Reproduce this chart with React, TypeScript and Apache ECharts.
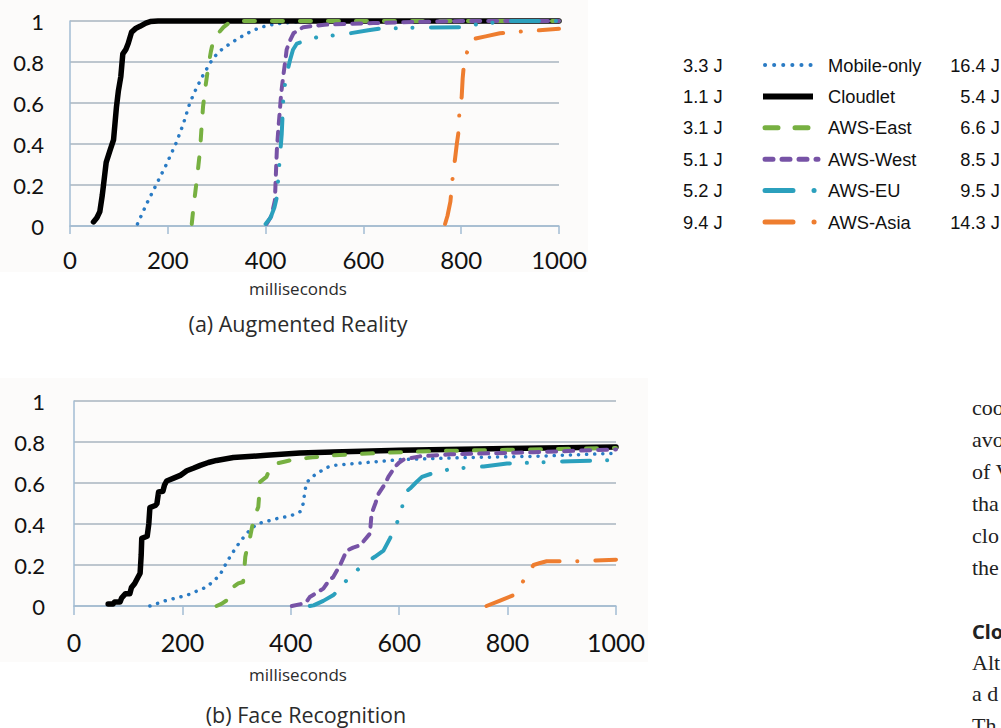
import React, { useEffect, useRef } from 'react';
import * as echarts from 'echarts';

// ---------- data ----------
const xTicks = [0, 200, 400, 600, 800, 1000];
const seriesNames = ['Mobile-only', 'Cloudlet', 'AWS-East', 'AWS-West', 'AWS-EU', 'AWS-Asia'];
const energyLeft = ['3.3 J', '1.1 J', '3.1 J', '5.1 J', '5.2 J', '9.4 J'];
const energyRight = ['16.4 J', '5.4 J', '6.6 J', '8.5 J', '9.5 J', '14.3 J'];

// (a) Augmented Reality — [milliseconds, cumulative fraction]
const arMobile = [[138, 0.01], [157, 0.11], [176, 0.2], [197, 0.3], [218, 0.41], [232, 0.5], [245, 0.6], [258, 0.67], [273, 0.74], [293, 0.82], [312, 0.865], [334, 0.9], [355, 0.93], [375, 0.955], [395, 0.972], [416, 0.984], [450, 0.993], [500, 1], [1000, 1]];
const arCloudlet = [[48, 0.02], [55, 0.04], [61, 0.07], [66, 0.15], [68, 0.19], [71, 0.25], [74, 0.31], [82, 0.37], [89, 0.42], [92, 0.5], [95, 0.58], [99, 0.66], [104, 0.73], [108, 0.84], [114, 0.86], [119, 0.89], [126, 0.946], [135, 0.965], [143, 0.974], [155, 0.99], [164, 0.997], [180, 1], [1000, 1]];
const arEast = [[249, 0.01], [252, 0.08], [256, 0.16], [261, 0.26], [266, 0.37], [269, 0.48], [272, 0.58], [277, 0.68], [283, 0.78], [288, 0.85], [293, 0.905], [303, 0.94], [314, 0.97], [327, 0.995], [340, 1], [1000, 1]];
const arWest = [[402, 0.01], [412, 0.05], [419, 0.125], [421, 0.25], [423, 0.37], [426, 0.47], [429, 0.56], [432, 0.65], [436, 0.73], [440, 0.8], [443, 0.86], [449, 0.9], [457, 0.94], [477, 0.97], [520, 0.982], [620, 0.99], [720, 0.996], [800, 1], [1000, 1]];
const arEU = [[400, 0.01], [410, 0.04], [418, 0.09], [423, 0.14], [428, 0.3], [433, 0.45], [436, 0.61], [440, 0.7], [445, 0.76], [450, 0.81], [456, 0.86], [464, 0.89], [484, 0.905], [504, 0.92], [540, 0.93], [573, 0.94], [610, 0.955], [634, 0.963], [700, 0.967], [797, 0.97], [832, 0.984], [870, 0.993], [900, 1], [1000, 1]];
const arAsia = [[767, 0.01], [772, 0.05], [778, 0.12], [781, 0.2], [784, 0.27], [787, 0.32], [791, 0.4], [794, 0.45], [796, 0.54], [799, 0.6], [801, 0.63], [803, 0.72], [806, 0.8], [811, 0.84], [816, 0.88], [821, 0.91], [850, 0.925], [879, 0.94], [920, 0.948], [960, 0.955], [1000, 0.962]];

// (b) Face Recognition
const frMobile = [[140, 0], [171, 0.028], [208, 0.052], [245, 0.093], [269, 0.15], [282, 0.215], [300, 0.29], [318, 0.353], [337, 0.4], [374, 0.426], [400, 0.44], [417, 0.46], [423, 0.5], [426, 0.56], [429, 0.6], [437, 0.625], [448, 0.646], [466, 0.675], [478, 0.686], [540, 0.7], [601, 0.714], [724, 0.724], [848, 0.73], [1000, 0.745]];
const frCloudlet = [[63, 0.01], [72, 0.01], [75, 0.02], [85, 0.02], [88, 0.04], [95, 0.06], [103, 0.06], [106, 0.09], [112, 0.11], [118, 0.14], [122, 0.16], [124, 0.25], [125, 0.33], [135, 0.34], [138, 0.4], [140, 0.48], [150, 0.49], [153, 0.5], [156, 0.556], [164, 0.56], [167, 0.59], [171, 0.61], [185, 0.625], [196, 0.637], [208, 0.66], [220, 0.672], [233, 0.686], [248, 0.7], [263, 0.71], [294, 0.724], [355, 0.735], [417, 0.746], [478, 0.751], [601, 0.76], [800, 0.768], [1000, 0.776]];
const frEast = [[263, 0], [272, 0.01], [282, 0.028], [288, 0.06], [294, 0.093], [303, 0.11], [312, 0.117], [314, 0.17], [316, 0.24], [320, 0.29], [325, 0.337], [331, 0.418], [335, 0.45], [340, 0.483], [342, 0.55], [343, 0.605], [355, 0.63], [360, 0.66], [362, 0.678], [374, 0.695], [390, 0.705], [405, 0.714], [440, 0.725], [478, 0.735], [560, 0.746], [663, 0.756], [800, 0.762], [940, 0.768], [1000, 0.771]];
const frWest = [[402, 0], [420, 0.01], [429, 0.02], [435, 0.044], [445, 0.06], [460, 0.085], [472, 0.13], [478, 0.14], [491, 0.2], [503, 0.27], [515, 0.285], [528, 0.296], [546, 0.353], [549, 0.45], [556, 0.5], [562, 0.548], [574, 0.597], [580, 0.63], [592, 0.678], [600, 0.7], [608, 0.714], [638, 0.73], [694, 0.74], [848, 0.75], [1000, 0.764]];
const frEU = [[435, 0], [442, 0.003], [460, 0.025], [478, 0.052], [485, 0.07], [497, 0.109], [515, 0.158], [540, 0.215], [555, 0.24], [571, 0.27], [583, 0.33], [595, 0.4], [605, 0.467], [608, 0.548], [620, 0.573], [630, 0.6], [642, 0.63], [669, 0.654], [700, 0.67], [756, 0.681], [799, 0.695], [915, 0.706], [1000, 0.712]];
const frAsia = [[761, 0], [785, 0.025], [810, 0.052], [818, 0.08], [826, 0.109], [841, 0.174], [848, 0.2], [860, 0.21], [872, 0.218], [921, 0.218], [1000, 0.226]];

const paperLines = ['coo', 'avo', 'of V', 'tha', 'clo', 'the'];
const paperLines2 = ['Alt', 'a d', 'Th'];

// ---------- styles ----------
const colors = ['#2a7bc4', '#000000', '#77b041', '#7753a6', '#2ba0bd', '#ee7d2f'];
const widths = [3.5, 5.5, 4, 4, 4, 4];
const dashes: (number[] | 'solid')[] = [
  [0.1, 8],
  'solid',
  [11, 17],
  [9, 8],
  [28, 17, 0.1, 16.6, 0.1, 18.5],
  [28, 17.7, 0.1, 18],
];
const legendWidths = [4, 6, 5, 5, 5, 5];
const legendDashes: (number[] | null)[] = [
  [0.1, 9],
  null,
  [13, 17],
  [8, 9],
  [28, 21, 0.1, 21],
  [28, 21, 0.1, 21],
];

const gridColor = '#a9b4bf';
const axisColor = '#a3bdd3';
const tickFont = 'Lato, sans-serif';
const captionFont = '"Open Sans", sans-serif';

function makeSeries(data: number[][][], gi: number) {
  return data.map((d, i) => ({
    type: 'line',
    name: seriesNames[i],
    xAxisIndex: gi,
    yAxisIndex: gi,
    data: d,
    showSymbol: false,
    symbol: 'none',
    clip: false,
    silent: true,
    z: 3 + i,
    lineStyle: {
      color: colors[i],
      width: widths[i],
      type: dashes[i],
      cap: 'round',
      join: 'round',
    },
  }));
}

function makeX(gi: number, fontSize: number, margin: number, tickLen: number) {
  return {
    type: 'value',
    gridIndex: gi,
    min: 0,
    max: 1000,
    interval: 200,
    axisLine: { show: true, lineStyle: { color: axisColor, width: 1.5 } },
    axisTick: { show: true, length: tickLen, lineStyle: { color: axisColor, width: 1.5 } },
    splitLine: { show: false },
    axisLabel: {
      fontSize,
      fontFamily: tickFont,
      color: '#111',
      margin,
      formatter: (v: number) => (xTicks.includes(v) ? String(v) : ''),
    },
  };
}

function makeY(gi: number, margin: number) {
  return {
    type: 'value',
    gridIndex: gi,
    min: 0,
    max: 1,
    interval: 0.2,
    axisLine: { show: true, lineStyle: { color: axisColor, width: 1.5 } },
    axisTick: { show: false },
    splitLine: { show: true, lineStyle: { color: gridColor, width: 1.5 } },
    axisLabel: {
      fontSize: 22,
      fontFamily: tickFont,
      color: '#111',
      margin,
      formatter: (v: number) => String(Math.round(v * 10) / 10),
    },
  };
}

function buildGraphic() {
  const els: any[] = [];
  els.push({ type: 'rect', z: -10, silent: true, shape: { x: 0, y: 0, width: 588, height: 272 }, style: { fill: '#fcfbfa' } });
  els.push({ type: 'rect', z: -10, silent: true, shape: { x: 0, y: 378, width: 648, height: 284 }, style: { fill: '#fcfbfa' } });

  const cap = (text: string, x: number, y: number, size: number) => ({
    type: 'text', x, y, silent: true,
    style: { text, fontSize: size, fontFamily: captionFont, fill: '#2b2b2b', align: 'center', verticalAlign: 'middle' },
  });
  els.push(cap('milliseconds', 298, 288, 17));
  els.push(cap('(a) Augmented Reality', 298, 323, 21.5));
  els.push(cap('milliseconds', 298, 674, 17));
  els.push(cap('(b) Face Recognition', 306, 714, 21.5));

  // legend table
  const rowY0 = 65;
  const rowStep = 31.4;
  seriesNames.forEach((name, i) => {
    const y = rowY0 + i * rowStep;
    const ls: any = { stroke: colors[i], lineWidth: legendWidths[i], lineCap: legendDashes[i] ? 'round' : 'butt' };
    if (legendDashes[i]) ls.lineDash = legendDashes[i];
    els.push({ type: 'line', silent: true, shape: { x1: i === 1 ? 763 : 765, y1: y, x2: i === 1 ? 813 : 818, y2: y }, style: ls });
    const t = (text: string, x: number, align: string) => ({
      type: 'text', x, y, silent: true,
      style: { text, fontSize: 18.3, fontFamily: '"Liberation Sans", Arial, sans-serif', fill: '#111', align, verticalAlign: 'middle' },
    });
    els.push(t(energyLeft[i], 683, 'left'));
    els.push(t(name, 828, 'left'));
    els.push(t(energyRight[i], 1000, 'right'));
  });

  // cropped paper text on the right
  paperLines.forEach((s, i) => {
    els.push({
      type: 'text', x: 972, y: 407 + i * 32, silent: true,
      style: { text: s, fontSize: 22, fontFamily: '"Liberation Serif", serif', fill: '#222', align: 'left', verticalAlign: 'middle' },
    });
  });
  els.push({
    type: 'text', x: 972, y: 631, silent: true,
    style: { text: 'Clo', fontSize: 20, fontWeight: 'bold', fontFamily: '"Noto Sans", sans-serif', fill: '#222', align: 'left', verticalAlign: 'middle' },
  });
  paperLines2.forEach((s, i) => {
    els.push({
      type: 'text', x: 972, y: 662 + i * 31.5, silent: true,
      style: { text: s, fontSize: 22, fontFamily: '"Liberation Serif", serif', fill: '#222', align: 'left', verticalAlign: 'middle' },
    });
  });
  return els;
}

export default function App() {
  const ref = useRef<HTMLDivElement>(null);
  useEffect(() => {
    document.body.style.margin = '0';
    const chart = echarts.init(ref.current!, null, { renderer: 'svg' });
    chart.setOption({
      animation: false,
      backgroundColor: '#ffffff',
      grid: [
        { left: 70, top: 21, width: 489, height: 205 },
        { left: 74, top: 401, width: 542, height: 205 },
      ],
      xAxis: [makeX(0, 24, 21, 8), makeX(1, 25, 23, 9)],
      yAxis: [makeY(0, 26), makeY(1, 29)],
      series: [
        ...makeSeries([arMobile, arCloudlet, arEast, arWest, arEU, arAsia], 0),
        ...makeSeries([frMobile, frCloudlet, frEast, frWest, frEU, frAsia], 1),
      ],
      graphic: buildGraphic(),
    });
    return () => chart.dispose();
  }, []);
  return <div ref={ref} style={{ position: 'absolute', left: 0, top: 0, width: 1001, height: 728 }} />;
}
